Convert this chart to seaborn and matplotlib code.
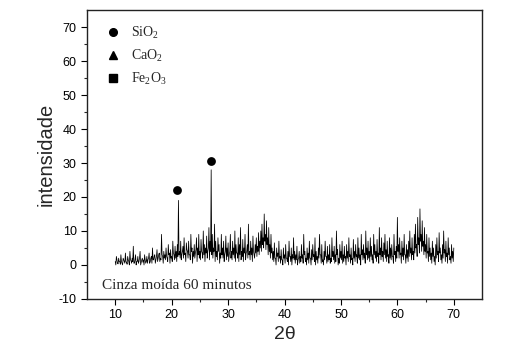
import numpy as np
import pandas as pd
import matplotlib
matplotlib.use("Agg")
import matplotlib.pyplot as plt
from matplotlib.lines import Line2D
import seaborn as sns

# Intensity: crest values at 10.0, 10.2, ... 70.0
crest_start = 10.0
trough_start = 10.1
step = 0.2
intensity_crest = [
    1, 2.5, 0.5, 2, 1,   3, 0.5, 2, 1, 3.5,   0.8, 2.5, 1, 4, 1.2,   2, 5.5, 0.5, 3, 1,
    2.5, 1, 4, 0.8, 2,   1.5, 3, 0.5, 2.5, 1.5,   3.5, 1, 2.5, 5, 1.5,   3, 1.5, 4.5, 2, 3.5,
    2, 9, 2.5, 4, 3,   5, 2, 6, 3.5, 4.5,   2.5, 7, 3, 5.5, 4,   6, 19, 4, 7, 3,
    5.5, 8, 3.5, 6.5, 4,   7, 3, 9, 5, 4,   6, 3.5, 8, 5, 9,   4, 7.5, 3.5, 10, 6,
    5, 8.5, 4, 11, 7,   28, 9, 5, 12, 7,   4, 8, 6, 3.5, 9,   5, 7, 3, 8.5, 5,
    6.5, 3, 9, 4, 7,   5, 10, 6, 3.5, 8,   6, 11, 4, 7.5, 5,   9, 3.5, 6, 12, 4,
    7, 5, 8.5, 3, 6,   8, 5.5, 9.5, 7, 10,   12, 8, 15, 9, 13,   8, 11, 6, 9, 5,
    4, 6.5, 2, 5, 3.5,   7, 2.5, 4.5, 1.5, 5,   3, 6, 2, 4, 7,   2.5, 5, 3, 8, 4,
    3, 5.5, 1.5, 4, 2.5,   6, 3, 9, 4, 2,   5, 3.5, 7, 2, 4.5,   6, 3, 8, 4, 2.5,
    5, 9, 3, 6, 1.5,   4, 7, 2.5, 5.5, 3,   6, 2, 8, 4, 5.5,   3, 10, 4.5, 2, 6,
    4, 7, 3, 5.5, 2.5,   6, 4, 8, 3, 5,   2, 7.5, 4, 6, 3,   8, 5, 3, 9, 4.5,
    6, 3.5, 10, 5, 7,   4, 8, 5.5, 3, 9,   6, 4, 7.5, 3.5, 11,   5, 8, 4, 6.5, 9,
    4.5, 7, 3, 8, 5,   6, 2.5, 9, 4, 5.5,   14, 6, 8, 3.5, 7,   5, 9, 3, 6, 4.5,
    7, 10, 5, 8, 4,   9, 12, 6, 14, 8,   16.5, 9, 13, 7, 11,   6, 9, 4, 8, 5,
    3.5, 7, 5, 2.5, 6,   8, 4, 9.5, 5, 3,   6, 10, 4.5, 7, 3.5,   8, 5, 2.5, 6, 4,
    5,
]
# Intensity: trough values at 10.1, 10.3, ... 69.9
intensity_trough = [
    0, 1.5, 0.3, 1, 0.2,   1, 0, 1.5, 0.5, 1,   0.2, 1.5, 0, 1.5, 0.5,   1, 0.5, 1.5, 0, 1,
    0.5, 2, 0, 1.5, 0.8,   0, 1.5, 1, 0.5, 2,   0.5, 2, 0.5, 1.5, 2.5,   0.5, 2.5, 1, 3, 1,
    1.5, 3, 0.5, 2, 1.5,   2.5, 1, 3, 0.5, 2,   1, 3.5, 1.5, 2, 1,   2.5, 3, 2, 1.5, 4,
    2, 3, 1, 4.5, 2,   3, 1.5, 4, 0.5, 2.5,   2, 4.5, 1, 3, 2,   1.5, 4, 2, 3, 1,
    3.5, 2, 5, 1.5, 4,   3, 2, 4, 1, 2.5,   1.5, 4, 0.5, 2, 3,   2, 1, 4, 1.5, 2.5,
    1, 4, 2, 1.5, 3,   2, 1, 3.5, 2, 1,   3, 1.5, 2.5, 1, 3.5,   1.5, 4, 2, 3, 1.5,
    3, 1, 4, 2, 3.5,   2.5, 4, 3, 5, 4,   6, 5, 7, 4.5, 6,   3, 4, 2, 3.5, 1.5,
    1, 2, 0, 2.5, 1,   2, 0.5, 1.5, 0, 2,   0.5, 2, 1, 0, 2.5,   1, 0, 2, 1.5, 0.5,
    1.5, 0, 2, 0.5, 1,   2, 0.5, 3, 1, 0,   1.5, 0.5, 2, 0, 1.5,   2.5, 1, 0, 1.5, 0.5,
    2, 3, 0.5, 1, 0,   1.5, 2.5, 0.5, 1, 1.5,   0.5, 1, 2.5, 1.5, 0.5,   1, 3, 0, 0.5, 2,
    1.5, 0.5, 1, 2, 0,   2, 1, 2.5, 0.5, 1.5,   0, 2, 1, 2.5, 0.5,   2, 1.5, 0, 3, 1.5,
    2, 0.5, 3, 1.5, 2,   1, 2.5, 1.5, 0.5, 3,   2, 1, 2.5, 0.5, 3,   1.5, 2.5, 1, 3, 2,
    1, 2.5, 0.5, 2, 1.5,   2.5, 0.5, 3, 1, 2,   4, 2, 3, 0.5, 2.5,   1.5, 3, 0.5, 2, 1,
    2.5, 3.5, 1.5, 3, 1.5,   3.5, 5, 2.5, 6, 3.5,   7, 4, 5.5, 3, 4,   2, 3.5, 1, 2.5, 1.5,
    0.5, 2.5, 1, 0, 2,   3, 1, 3.5, 1.5, 0.5,   2, 3.5, 1, 2.5, 0.5,   3, 1.5, 0.5, 2, 1,
]

# SiO2 peak markers
peak_x = [21.0, 27.0]
peak_y = [22.0, 30.5]

legend_labels = ["SiO$_2$", "CaO$_2$", "Fe$_2$O$_3$"]
legend_markers = ["o", "^", "s"]

sns.set_style("ticks")
plt.rcParams["font.family"] = ["Liberation Sans", "DejaVu Sans"]
plt.rcParams["mathtext.fontset"] = "custom"
plt.rcParams["mathtext.rm"] = "Liberation Serif"
plt.rcParams["mathtext.it"] = "Liberation Serif:italic"
plt.rcParams["mathtext.bf"] = "Liberation Serif:bold"
plt.rcParams["axes.unicode_minus"] = False

fig = plt.figure(figsize=(5.09, 3.48), dpi=100)
ax = fig.add_axes([0.171, 0.141, 0.776, 0.830])

x_crest = crest_start + step * np.arange(len(intensity_crest))
x_trough = trough_start + step * np.arange(len(intensity_trough))
df = pd.DataFrame({
    "two_theta": np.concatenate([x_crest, x_trough]),
    "intensity": np.concatenate([intensity_crest, intensity_trough]),
}).sort_values("two_theta")

sns.lineplot(data=df, x="two_theta", y="intensity", ax=ax, color="black",
             linewidth=0.55, estimator=None, sort=True)
sns.scatterplot(x=peak_x, y=peak_y, ax=ax, color="black", marker="o", s=40,
                edgecolor="black", linewidth=0)

ax.set_xlim(5, 75)
ax.set_ylim(-10, 75)
ax.set_xticks([10, 20, 30, 40, 50, 60, 70])
ax.set_yticks([-10, 0, 10, 20, 30, 40, 50, 60, 70])
ax.set_xticks(np.arange(15, 75, 10), minor=True)
ax.set_yticks(np.arange(-5, 75, 10), minor=True)
ax.tick_params(axis="both", which="major", direction="out", length=4, width=0.8,
               labelsize=9, colors="black")
ax.tick_params(axis="both", which="minor", direction="out", length=2.5, width=0.8)
for sp in ax.spines.values():
    sp.set_visible(True)
    sp.set_linewidth(1.0)
    sp.set_color("#222222")

ax.set_xlabel("2θ", fontsize=14, labelpad=3)
ax.set_ylabel("intensidade", fontsize=14.5, labelpad=2)

handles = [Line2D([], [], color="black", marker=m, linestyle="none", markersize=5.5)
           for m in legend_markers]
ax.legend(handles, legend_labels, loc="upper left", frameon=False,
          bbox_to_anchor=(0.0, 0.993), handletextpad=0.3, labelspacing=0.5,
          prop={"family": "Liberation Serif", "size": 10})

ax.text(7.7, -6.0, "Cinza moída 60 minutos", fontsize=11,
        family="Liberation Serif", ha="left", va="center")

fig.savefig("out.png", dpi=100)
